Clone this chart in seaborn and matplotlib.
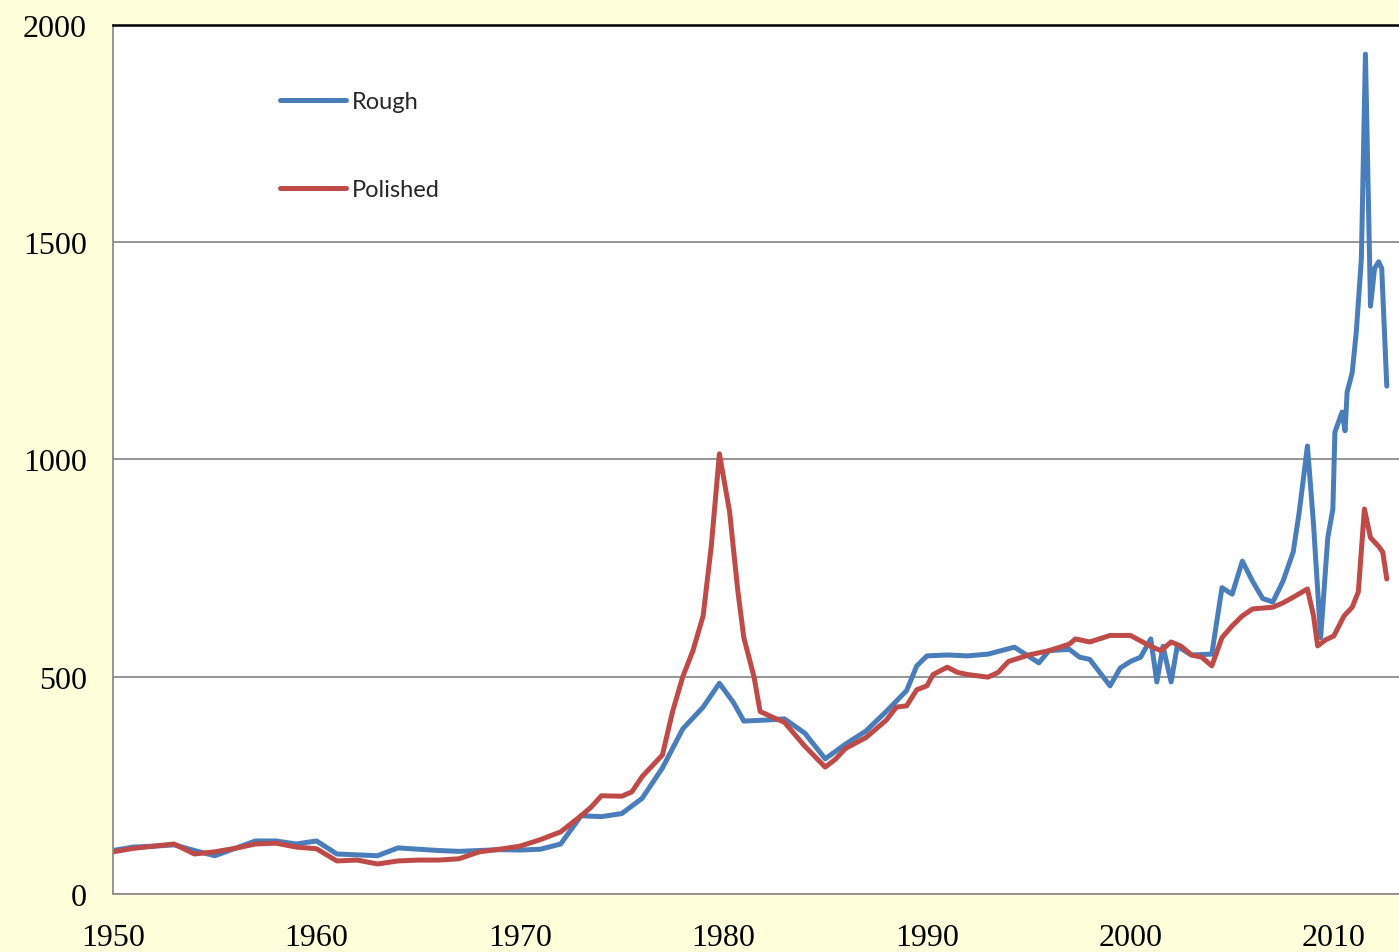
import numpy as np
import pandas as pd
import matplotlib
matplotlib.use("Agg")
import matplotlib.pyplot as plt
import seaborn as sns

# Price index series (1950 = ~100)
rough_years = [1950, 1951, 1952, 1953, 1954, 1955, 1956, 1957, 1958, 1959,
               1960, 1961, 1962, 1963, 1964, 1965, 1966, 1967, 1968, 1969,
               1970, 1971, 1972, 1973, 1974, 1975, 1976, 1977, 1978, 1979,
               1979.8, 1980.5, 1981, 1982, 1983, 1984, 1985, 1986, 1987, 1988,
               1989, 1989.5, 1990, 1991, 1992, 1993, 1994.3, 1995.5, 1996, 1997,
               1997.5, 1998, 1999, 1999.5, 2000, 2000.5, 2001, 2001.3, 2001.6, 2002,
               2002.3, 2003, 2004, 2004.5, 2005, 2005.5, 2006, 2006.5, 2007, 2007.5,
               2008, 2008.3, 2008.7, 2009, 2009.35, 2009.7, 2009.95, 2010.05, 2010.4, 2010.55,
               2010.65, 2010.9, 2011.1, 2011.35, 2011.55, 2011.8, 2012.0, 2012.2, 2012.35, 2012.6]
rough_vals = [100, 108, 110, 113, 100, 88, 105, 122, 122, 115,
              122, 92, 90, 88, 106, 103, 100, 98, 100, 102,
              101, 103, 115, 180, 178, 185, 220, 290, 380, 430,
              485, 440, 398, 400, 403, 370, 311, 345, 375, 420,
              468, 525, 548, 550, 548, 552, 568, 532, 560, 563,
              545, 540, 479, 520, 535, 545, 587, 488, 570, 488,
              570, 550, 552, 705, 690, 766, 720, 680, 672, 720,
              787, 880, 1031, 850, 590, 820, 886, 1063, 1109, 1066,
              1155, 1200, 1293, 1461, 1933, 1353, 1440, 1455, 1440, 1169]

polished_years = [1950, 1951, 1952, 1953, 1954, 1955, 1956, 1957, 1958, 1959,
                  1960, 1961, 1962, 1963, 1964, 1965, 1966, 1967, 1968, 1969,
                  1970, 1971, 1972, 1973, 1973.5, 1974, 1975, 1975.5, 1976, 1977,
                  1977.5, 1978, 1978.5, 1979, 1979.4, 1979.8, 1980.3, 1980.7, 1981, 1981.5,
                  1981.8, 1982.5, 1983, 1984, 1985, 1985.5, 1986, 1987, 1988, 1988.5,
                  1989, 1989.5, 1990, 1990.3, 1991, 1991.5, 1992, 1993, 1993.5, 1994,
                  1995, 1996, 1997, 1997.3, 1998, 1999, 2000, 2001, 2001.5, 2002,
                  2002.5, 2003, 2003.5, 2004, 2004.5, 2005, 2005.5, 2006, 2007, 2007.5,
                  2008, 2008.7, 2009, 2009.2, 2009.6, 2010, 2010.5, 2010.9, 2011.2, 2011.5,
                  2011.8, 2012.2, 2012.4, 2012.6]
polished_vals = [97, 105, 110, 115, 92, 97, 105, 115, 117, 108,
                 104, 76, 78, 69, 76, 78, 78, 81, 97, 103,
                 110, 125, 143, 180, 200, 226, 225, 235, 270, 320,
                 420, 500, 560, 640, 800, 1013, 880, 700, 590, 500,
                 420, 405, 395, 340, 292, 310, 335, 360, 400, 430,
                 433, 470, 479, 505, 522, 510, 505, 499, 510, 535,
                 550, 560, 575, 587, 580, 595, 595, 570, 560, 580,
                 570, 550, 545, 525, 590, 617, 640, 656, 660, 670,
                 683, 702, 640, 571, 585, 594, 640, 660, 695, 886,
                 820, 800, 787, 725]

series_names = ["Rough", "Polished"]
series_colors = ["#4A7EBB", "#BE4B48"]

year_ticks = [1950, 1960, 1970, 1980, 1990, 2000, 2010]
value_ticks = [0, 500, 1000, 1500, 2000]

df = pd.concat([
    pd.DataFrame({"year": rough_years, "value": rough_vals, "series": series_names[0]}),
    pd.DataFrame({"year": polished_years, "value": polished_vals, "series": series_names[1]}),
], ignore_index=True)

sns.set_style("white")
bg = "#FFFFDC"
fig = plt.figure(figsize=(13.99, 9.53), dpi=100, facecolor=bg)
ax = fig.add_axes([0.0808, 0.0609, 0.9192, 0.9118])
ax.set_facecolor("white")

sns.lineplot(data=df, x="year", y="value", hue="series", hue_order=series_names,
             palette=series_colors, linewidth=3.6, ax=ax, legend=True)

ax.set_xlim(1950, 2013.2)
ax.set_ylim(0, 2000)
ax.set_xticks(year_ticks)
ax.set_yticks(value_ticks)
ax.set_xlabel("")
ax.set_ylabel("")

ax.yaxis.grid(True, color="#8C8C8C", linewidth=1.3)
ax.xaxis.grid(False)
ax.set_axisbelow(True)

for side in ["left", "bottom"]:
    ax.spines[side].set_color("#8C8C8C")
    ax.spines[side].set_linewidth(1.3)
ax.spines["right"].set_visible(False)
ax.spines["top"].set_color("black")
ax.spines["top"].set_linewidth(1.8)

ax.tick_params(axis="x", direction="out", length=9, width=1.2, color="#555555",
               pad=12, labelsize=23)
ax.tick_params(axis="y", direction="out", length=7, width=1.2, color="#8C8C8C",
               pad=12, labelsize=23)
for lab in ax.get_xticklabels() + ax.get_yticklabels():
    lab.set_fontfamily("Liberation Serif")
    lab.set_color("black")

leg = ax.legend(loc="upper left", bbox_to_anchor=(0.1299, 0.924), frameon=False,
                handlelength=2.8, handletextpad=0.25, labelspacing=2.85,
                borderpad=0, borderaxespad=0,
                prop={"family": "Lato", "size": 17})
for line in leg.get_lines():
    line.set_linewidth(3.6)

fig.savefig("out.png", dpi=100, facecolor=bg)
